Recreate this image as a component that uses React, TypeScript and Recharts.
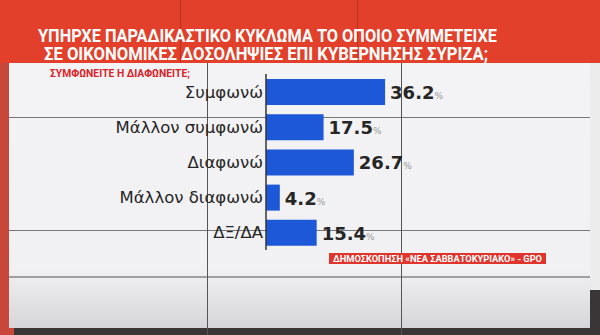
import { BarChart, Bar, XAxis, YAxis, LabelList } from "recharts";

const categories = ["Συμφωνώ", "Μάλλον συμφωνώ", "Διαφωνώ", "Μάλλον διαφωνώ", "ΔΞ/ΔΑ"];
const values = [36.2, 17.5, 26.7, 4.2, 15.4];

const titleLines = [
  "ΥΠΗΡΧΕ ΠΑΡΑΔΙΚΑΣΤΙΚΟ ΚΥΚΛΩΜΑ ΤΟ ΟΠΟΙΟ ΣΥΜΜΕΤΕΙΧΕ",
  "ΣΕ ΟΙΚΟΝΟΜΙΚΕΣ ΔΟΣΟΛΗΨΙΕΣ ΕΠΙ ΚΥΒΕΡΝΗΣΗΣ ΣΥΡΙΖΑ;",
];
const subtitle = "ΣΥΜΦΩΝΕΙΤΕ Η ΔΙΑΦΩΝΕΙΤΕ;";
const source = "ΔΗΜΟΣΚΟΠΗΣΗ «ΝΕΑ ΣΑΒΒΑΤΟΚΥΡΙΑΚΟ» - GPO";

const data = categories.map((name, i) => ({ name, value: values[i] }));

const CategoryTick = ({ x, y, payload }: any) => (
  <text
    x={x + 5}
    y={y}
    dy={6}
    textAnchor="end"
    fontSize={16.5}
    fontFamily="DejaVu Sans, sans-serif"
    fill="#262626"
  >
    {payload.value}
  </text>
);

const ValueLabel = ({ x, y, width, height, value }: any) => (
  <text x={x + width + 5} y={y + height / 2 + 7} fontFamily="DejaVu Sans, sans-serif" fill="#262626">
    <tspan fontSize={18} fontWeight="bold">{value.toFixed(1)}</tspan>
    <tspan fontSize={9} fill="#999">%</tspan>
  </text>
);

export default function App() {
  return (
    <div
      style={{
        position: "absolute",
        top: 0,
        left: 0,
        width: 600,
        height: 335,
        overflow: "hidden",
        background: "#3a3536",
      }}
    >
      {/* studio wall on the left */}
      <div style={{ position: "absolute", left: 0, top: 0, width: 14, height: 335, background: "#c9473a" }} />

      {/* screen panel */}
      <div
        style={{
          position: "absolute",
          left: 9,
          top: 0,
          width: 581,
          height: 328,
          background: "linear-gradient(180deg, #f4f4f6 0%, #f1f1f3 82%, #d6d6da 100%)",
        }}
      />
      <div style={{ position: "absolute", left: 590, top: 0, width: 10, height: 290, background: "#ececec" }} />

      {/* seams of the video wall */}
      <div style={{ position: "absolute", left: 9, top: 117, width: 581, height: 1, background: "#777" }} />
      <div style={{ position: "absolute", left: 9, top: 230, width: 581, height: 1, background: "#777" }} />
      <div style={{ position: "absolute", left: 9, top: 276, width: 581, height: 2, background: "#a0a0a0" }} />
      <div style={{ position: "absolute", left: 207, top: 63, width: 1, height: 272, background: "#555" }} />
      <div style={{ position: "absolute", left: 401, top: 63, width: 1, height: 272, background: "#555" }} />

      {/* red header */}
      <div style={{ position: "absolute", left: 0, top: 0, width: 600, height: 63, background: "#e2402a" }} />
      <div style={{ position: "absolute", left: 180, top: 0, width: 1, height: 63, background: "#b8321f" }} />
      <div style={{ position: "absolute", left: 357, top: 0, width: 1, height: 63, background: "#b8321f" }} />

      <svg width={600} height={90} style={{ position: "absolute", left: 0, top: 0 }}>
        <text
          x={38}
          y={42}
          textLength={459}
          lengthAdjust="spacingAndGlyphs"
          fontFamily="Roboto, sans-serif"
          fontWeight="bold"
          fontSize={19}
          fill="#fff"
        >
          {titleLines[0]}
        </text>
        <text
          x={44}
          y={60}
          textLength={444}
          lengthAdjust="spacingAndGlyphs"
          fontFamily="Roboto, sans-serif"
          fontWeight="bold"
          fontSize={19}
          fill="#fff"
        >
          {titleLines[1]}
        </text>
        <text
          x={50}
          y={77}
          textLength={140}
          lengthAdjust="spacingAndGlyphs"
          fontFamily="Roboto, sans-serif"
          fontWeight="bold"
          fontSize={10.5}
          fill="#d8242a"
        >
          {subtitle}
        </text>
      </svg>

      <div style={{ position: "absolute", left: 0, top: 0 }}>
        <BarChart
          width={600}
          height={335}
          data={data}
          layout="vertical"
          barCategoryGap={0}
          margin={{ top: 74, right: 5, bottom: 85, left: 0 }}
        >
          <XAxis type="number" domain={[0, 100]} hide />
          <YAxis
            type="category"
            dataKey="name"
            width={266}
            tick={<CategoryTick />}
            tickLine={false}
            axisLine={{ stroke: "#333", strokeWidth: 1.5 }}
          />
          <Bar dataKey="value" fill="#1d58d8" barSize={26} isAnimationActive={false}>
            <LabelList dataKey="value" content={<ValueLabel />} />
          </Bar>
        </BarChart>
      </div>

      {/* source tag */}
      <svg width={600} height={335} style={{ position: "absolute", left: 0, top: 0 }}>
        <rect x={329} y={253} width={217} height={11} fill="#e0352c" />
        <text
          x={333}
          y={262}
          textLength={209}
          lengthAdjust="spacingAndGlyphs"
          fontFamily="Roboto, sans-serif"
          fontWeight="bold"
          fontSize={9}
          fill="#fff"
        >
          {source}
        </text>
      </svg>
    </div>
  );
}
